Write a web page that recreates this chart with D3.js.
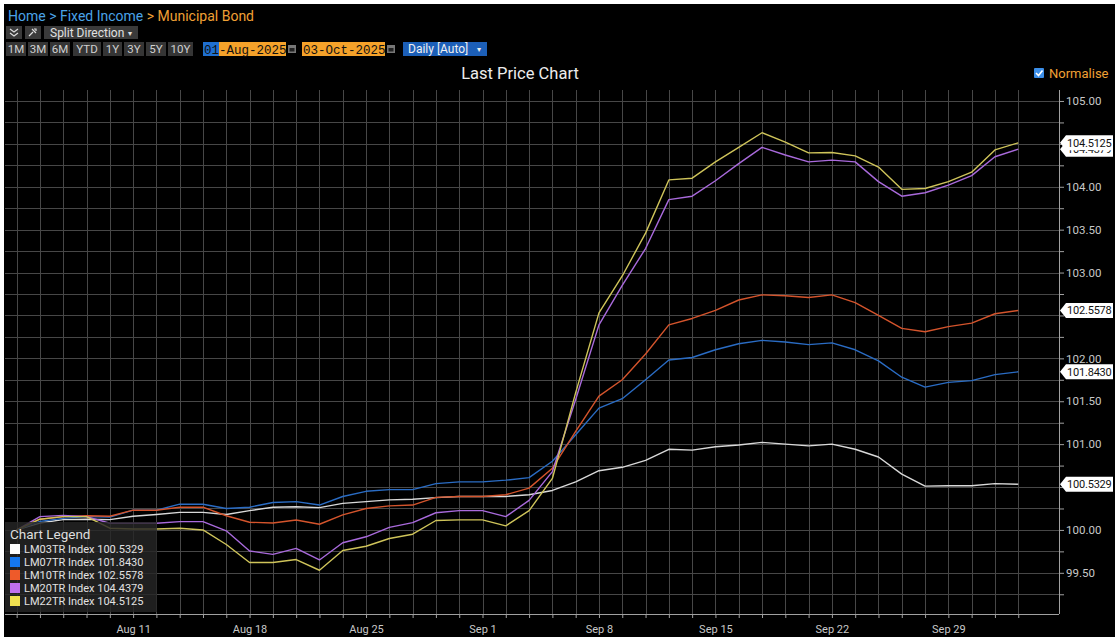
<!DOCTYPE html>
<html>
<head>
<meta charset="utf-8">
<script src="https://cdn.jsdelivr.net/npm/d3@7"></script>
<style>
  body { margin: 0; background: #fff; }
  svg text { font-family: Roboto, "Noto Sans", sans-serif; }
  .mono { font-family: "Liberation Mono", "DejaVu Sans Mono", monospace; }
</style>
</head>
<body>
<svg id="chart" width="1120" height="643"></svg>
<script>
// trading days shown on the axis (weekdays, Labor Day carried forward)
var dates = d3.timeDay.range(new Date(2025, 7, 4), new Date(2025, 9, 3))
  .filter(function(d) { return d.getDay() !== 0 && d.getDay() !== 6; });

// normalised last price, one value per weekday
var lm03 = [100.00, 100.08, 100.12, 100.125, 100.12, 100.16, 100.18, 100.205, 100.205, 100.18,
            100.225, 100.265, 100.27, 100.26, 100.31, 100.33, 100.35, 100.357, 100.376, 100.39,
            100.39, 100.39, 100.41, 100.46, 100.56, 100.69, 100.73, 100.81, 100.94, 100.93,
            100.97, 100.99, 101.02, 101.00, 100.98, 101.00, 100.94, 100.85, 100.65, 100.51,
            100.515, 100.515, 100.54, 100.5329];
var lm07 = [100.00, 100.10, 100.135, 100.155, 100.15, 100.23, 100.23, 100.30, 100.30, 100.25,
            100.265, 100.32, 100.33, 100.29, 100.39, 100.45, 100.47, 100.47, 100.54, 100.56,
            100.56, 100.58, 100.61, 100.80, 101.11, 101.42, 101.53, 101.75, 101.98, 102.01,
            102.10, 102.17, 102.21, 102.19, 102.16, 102.18, 102.10, 101.97, 101.78, 101.665,
            101.72, 101.74, 101.81, 101.8430];
var lm10 = [100.00, 100.125, 100.155, 100.165, 100.16, 100.23, 100.23, 100.265, 100.265, 100.165,
            100.09, 100.08, 100.115, 100.066, 100.175, 100.25, 100.28, 100.29, 100.38, 100.39,
            100.39, 100.41, 100.487, 100.72, 101.15, 101.56, 101.75, 102.05, 102.39, 102.465,
            102.56, 102.68, 102.74, 102.73, 102.71, 102.74, 102.65, 102.50, 102.35, 102.31,
            102.37, 102.41, 102.52, 102.5578];
var lm20 = [100.00, 100.155, 100.17, 100.155, 100.078, 100.078, 100.078, 100.097, 100.097, 99.99,
            99.755, 99.715, 99.785, 99.65, 99.85, 99.92, 100.03, 100.085, 100.20, 100.225,
            100.225, 100.155, 100.345, 100.68, 101.52, 102.39, 102.85, 103.28, 103.85, 103.89,
            104.07, 104.27, 104.46, 104.37, 104.29, 104.31, 104.29, 104.06, 103.89, 103.93,
            104.02, 104.13, 104.35, 104.4379];
var lm22 = [100.00, 100.125, 100.155, 100.155, 100.02, 100.01, 100.01, 100.02, 100.00, 99.83,
            99.62, 99.62, 99.655, 99.53, 99.76, 99.81, 99.90, 99.95, 100.11, 100.117,
            100.117, 100.047, 100.225, 100.60, 101.60, 102.53, 102.96, 103.46, 104.08, 104.10,
            104.29, 104.46, 104.63, 104.52, 104.395, 104.40, 104.36, 104.23, 103.97, 103.98,
            104.06, 104.17, 104.43, 104.5125];

var seriesNames = ["LM03TR Index", "LM07TR Index", "LM10TR Index", "LM20TR Index", "LM22TR Index"];
var lastLabels = ["100.5329", "101.8430", "102.5578", "104.4379", "104.5125"];
var lineColors = ["#d9d9d9", "#2a6cc4", "#d4542c", "#a96adc", "#cfc45a"];
var swatchColors = ["#ffffff", "#1477ee", "#ee5a2a", "#c070f0", "#f0e050"];
var rangeButtons = ["1M", "3M", "6M", "YTD", "1Y", "3Y", "5Y", "10Y"];

var series = [lm03, lm07, lm10, lm20, lm22];

var svg = d3.select("#chart");
var plot = {left: 5, right: 1059, top: 90, bottom: 614};

svg.append("rect").attr("x", 4).attr("y", 4).attr("width", 1111).attr("height", 633).attr("fill", "#000");

var x = d3.scaleLinear().domain([-0.5, 44.75]).range([plot.left, plot.right]),
    y = d3.scaleLinear().domain([99.02, 105.128]).range([plot.bottom, plot.top]);

var yTicks = d3.range(99.25, 105.01, 0.25);
var xIdx = d3.range(dates.length);

// grid
var grid = svg.append("g").attr("stroke", "#474747").attr("stroke-width", 1);
grid.selectAll(".h").data(yTicks).enter().append("line")
  .attr("x1", plot.left).attr("x2", plot.right)
  .attr("y1", function(d) { return Math.round(y(d)) + 0.5; })
  .attr("y2", function(d) { return Math.round(y(d)) + 0.5; });
grid.selectAll(".v").data(xIdx).enter().append("line")
  .attr("y1", plot.top).attr("y2", plot.bottom)
  .attr("x1", function(d) { return Math.round(x(d)) + 0.5; })
  .attr("x2", function(d) { return Math.round(x(d)) + 0.5; });

// lines
svg.append("clipPath").attr("id", "clip").append("rect")
  .attr("x", plot.left).attr("y", plot.top)
  .attr("width", plot.right - plot.left).attr("height", plot.bottom - plot.top);

var line = d3.line()
  .x(function(d, i) { return x(i); })
  .y(function(d) { return y(d); });

svg.append("g").attr("clip-path", "url(#clip)")
  .selectAll("path").data(series).enter().append("path")
  .attr("d", line)
  .attr("fill", "none")
  .attr("stroke", function(d, i) { return lineColors[i]; })
  .attr("stroke-width", 1.4)
  .attr("stroke-linejoin", "round");

// x axis
var fmt = d3.timeFormat("%b %-d");
var xAxis = svg.append("g")
  .attr("transform", "translate(0," + plot.bottom + ")")
  .call(d3.axisBottom(x).tickValues(xIdx).tickSize(4).tickSizeOuter(0)
    .tickFormat(function(i) {
      return (i > 0 && dates[i].getDay() === 1) ? fmt(dates[i]) : "";
    }));
xAxis.select(".domain").attr("d", "M" + plot.left + ",0.5H" + plot.right).attr("stroke", "#a0a0a0");
xAxis.selectAll(".tick line").attr("stroke", "#a0a0a0");
xAxis.selectAll(".tick text").attr("fill", "#c8c8c8").attr("font-size", 11).attr("dy", "1.05em");

svg.append("text").attr("x", 528).attr("y", 646).attr("text-anchor", "middle")
  .attr("fill", "#c8c8c8").attr("font-size", 11).text("2025");

// y axis; labels sitting under a last-value tag are hidden, as on the terminal
var lastVals = series.map(function(s) { return s[s.length - 1]; });
function covered(t) {
  return lastVals.some(function(v) { return Math.abs(y(v) - y(t)) < 9; });
}
var yAxis = svg.append("g")
  .attr("transform", "translate(" + plot.right + ",0)")
  .call(d3.axisRight(y).tickValues(yTicks).tickSize(5).tickPadding(2).tickSizeOuter(0)
    .tickFormat(function(d) {
      var major = Math.abs(d * 2 - Math.round(d * 2)) < 1e-6;
      return major && !covered(d) ? d3.format(".2f")(d) : "";
    }));
yAxis.select(".domain").attr("d", "M0.5," + plot.top + "V" + plot.bottom).attr("stroke", "#a0a0a0");
yAxis.selectAll(".tick line").attr("stroke", "#a0a0a0");
yAxis.selectAll(".tick text").attr("fill", "#c8c8c8").attr("font-size", 11.5);

// last value tags
var tags = svg.append("g").selectAll("g").data(series).enter().append("g")
  .attr("transform", function(d) { return "translate(" + plot.right + "," + y(d[d.length - 1]) + ")"; });
tags.append("path")
  .attr("d", "M1,0L7,-7.5H54V7.5H7Z")
  .attr("fill", "#fff");
tags.append("text")
  .attr("x", 8).attr("dy", "0.36em")
  .attr("font-size", 11).attr("letter-spacing", -0.2).attr("fill", "#111")
  .text(function(d, i) { return lastLabels[i]; });

// legend
var legend = svg.append("g");
legend.append("rect").attr("x", 5).attr("y", 522).attr("width", 152).attr("height", 90)
  .attr("fill", "#262626").attr("fill-opacity", 0.82);
legend.append("text").attr("x", 10).attr("y", 539).attr("font-size", 13.5).attr("fill", "#dedede").text("Chart Legend");
var rows = legend.selectAll(".row").data(seriesNames).enter().append("g")
  .attr("transform", function(d, i) { return "translate(10," + (549 + i * 13) + ")"; });
rows.append("rect").attr("x", 0).attr("y", -5).attr("width", 10).attr("height", 10)
  .attr("fill", function(d, i) { return swatchColors[i]; });
rows.append("text").attr("x", 14).attr("dy", "0.36em").attr("font-size", 11).attr("fill", "#e2e2e2")
  .text(function(d, i) { return d + " " + lastLabels[i]; });

// header
var crumb = svg.append("text").attr("x", 8).attr("y", 21).attr("font-size", 14);
crumb.append("tspan").attr("fill", "#4aa3e8").text("Home > Fixed Income ");
crumb.append("tspan").attr("fill", "#f0a035").text("> Municipal Bond");

var bar2 = svg.append("g");
bar2.append("rect").attr("x", 6).attr("y", 26).attr("width", 16).attr("height", 13).attr("fill", "#3a3a3a");
bar2.append("path").attr("d", "M10,29l4,3l4,-3M10,33l4,3l4,-3").attr("fill", "none").attr("stroke", "#ddd").attr("stroke-width", 1.2);
bar2.append("rect").attr("x", 25).attr("y", 26).attr("width", 16).attr("height", 13).attr("fill", "#3a3a3a");
bar2.append("path").attr("d", "M29,36l4,-4M32,29l4,4M34,29l2,0l0,2").attr("fill", "none").attr("stroke", "#ddd").attr("stroke-width", 1.2);
bar2.append("rect").attr("x", 44).attr("y", 26).attr("width", 94).attr("height", 13).attr("fill", "#3a3a3a");
bar2.append("text").attr("x", 50).attr("y", 37).attr("font-size", 12).attr("fill", "#e0e0e0").text("Split Direction");
bar2.append("text").attr("x", 128).attr("y", 36).attr("font-size", 8).attr("fill", "#e0e0e0").text("▾");

var btnX = [6, 28, 50, 73, 103, 124, 146, 168], btnW = [20, 20, 20, 28, 19, 20, 20, 25];
var btns = svg.append("g").selectAll("g").data(rangeButtons).enter().append("g");
btns.append("rect").attr("x", function(d, i) { return btnX[i]; }).attr("y", 42)
  .attr("width", function(d, i) { return btnW[i]; }).attr("height", 14).attr("fill", "#353535");
btns.append("text").attr("x", function(d, i) { return btnX[i] + btnW[i] / 2; }).attr("y", 53)
  .attr("text-anchor", "middle").attr("font-size", 11.5).attr("fill", "#d0d0d0").text(function(d) { return d; });

var dateBox = svg.append("g");
dateBox.append("rect").attr("x", 203).attr("y", 42).attr("width", 83).attr("height", 14).attr("fill", "#f5a22a");
dateBox.append("rect").attr("x", 203).attr("y", 42).attr("width", 16).attr("height", 14).attr("fill", "#1f6fd0");
dateBox.append("text").attr("class", "mono").attr("x", 204).attr("y", 53.5).attr("font-size", 12.5).attr("fill", "#111").text("01-Aug-2025");
dateBox.append("rect").attr("x", 288).attr("y", 45).attr("width", 8).attr("height", 8).attr("fill", "#777");
dateBox.append("rect").attr("x", 289.5).attr("y", 48).attr("width", 5).attr("height", 3.5).attr("fill", "#222");
dateBox.append("rect").attr("x", 302).attr("y", 42).attr("width", 83).attr("height", 14).attr("fill", "#f5a22a");
dateBox.append("text").attr("class", "mono").attr("x", 303).attr("y", 53.5).attr("font-size", 12.5).attr("fill", "#111").text("03-Oct-2025");
dateBox.append("rect").attr("x", 387).attr("y", 45).attr("width", 8).attr("height", 8).attr("fill", "#777");
dateBox.append("rect").attr("x", 388.5).attr("y", 48).attr("width", 5).attr("height", 3.5).attr("fill", "#222");
dateBox.append("rect").attr("x", 403).attr("y", 42).attr("width", 84).attr("height", 14).attr("fill", "#1c5fb8");
dateBox.append("text").attr("x", 408).attr("y", 53).attr("font-size", 12).attr("fill", "#f0f0f0").text("Daily [Auto]");
dateBox.append("text").attr("x", 477).attr("y", 52).attr("font-size", 8).attr("fill", "#f0f0f0").text("▾");

svg.append("text").attr("x", 520).attr("y", 79).attr("text-anchor", "middle")
  .attr("font-size", 16.5).attr("fill", "#ececec").text("Last Price Chart");

svg.append("rect").attr("x", 1034).attr("y", 68).attr("width", 10).attr("height", 10).attr("rx", 1).attr("fill", "#3b8ee8");
svg.append("path").attr("d", "M1036,73l2.5,2.5l4,-5").attr("fill", "none").attr("stroke", "#fff").attr("stroke-width", 1.6);
svg.append("text").attr("x", 1049).attr("y", 78).attr("font-size", 13).attr("fill", "#f0a035").text("Normalise");

// white frame round the screenshot
svg.append("path")
  .attr("d", "M0,0H1120V643H0ZM4,4V637H1115V4Z")
  .attr("fill", "#fff").attr("fill-rule", "evenodd");
</script>
</body>
</html>
